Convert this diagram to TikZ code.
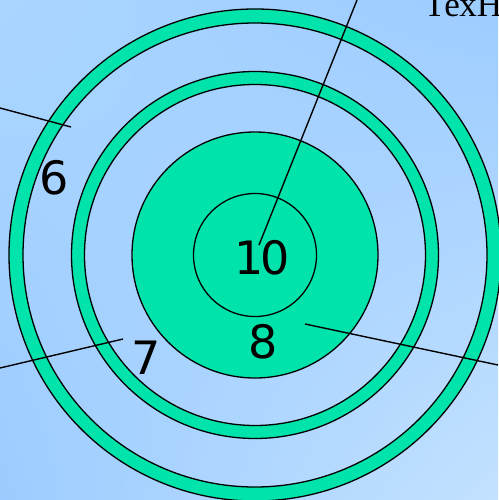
\documentclass[tikz,border=0pt]{standalone}
\usepackage{fontspec}
\usetikzlibrary{shadings}
\setmainfont{Liberation Serif}
\newfontfamily\numfont{DejaVu Sans}
\definecolor{ringgreen}{HTML}{00E3AA}
\definecolor{bgA}{HTML}{AAD5FF}
\definecolor{bgB}{HTML}{9CCCFF}
\definecolor{bgC}{HTML}{C4E2FF}
\tikzset{
  ring/.style={draw=black, line width=1.3pt, fill=ringgreen, even odd rule},
  disc/.style={draw=black, line width=1.3pt, fill=ringgreen},
  leader/.style={draw=black, line width=1.4pt},
  num/.style={font=\numfont\fontsize{46}{50}\selectfont, inner sep=0pt, anchor=center},
  head/.style={font=\fontsize{35}{38}\selectfont, inner sep=0pt, anchor=base west}
}
\begin{document}
\begin{tikzpicture}[x=1pt,y=-1pt]
\useasboundingbox (0,0) rectangle (498,500);
\shade[upper left=bgA, upper right=bgB, lower left=bgB, lower right=bgC] (0,0) rectangle (498,500);
\coordinate (c) at (255,255);
\path[ring] (c) circle (246) (c) circle (232);
\path[ring] (c) circle (183.5) (c) circle (170.5);
\path[disc] (c) circle (123);
\path[disc] (c) circle (61.5);
\node[head] (hdr) at (424,17) {ТехН};
\node[num] (n6) at (54,178) {6};
\node[num] (n7) at (146,358) {7};
\node[num] (n8) at (263,342) {8};
\node[num] (n10) at (262,258) {1\kern-3pt0};
\coordinate (a6) at (0,108);
\coordinate (b6) at (71,127);
\coordinate (a7) at (0,368);
\coordinate (b7) at (123,339);
\coordinate (a8) at (305,324);
\coordinate (b8) at (498,365);
\coordinate (a10) at (259,245);
\coordinate (b10) at (357,0);
\draw[leader] (a6) -- (b6);
\draw[leader] (a7) -- (b7);
\draw[leader] (a8) -- (b8);
\draw[leader] (a10) -- (b10);
\end{tikzpicture}
\end{document}
